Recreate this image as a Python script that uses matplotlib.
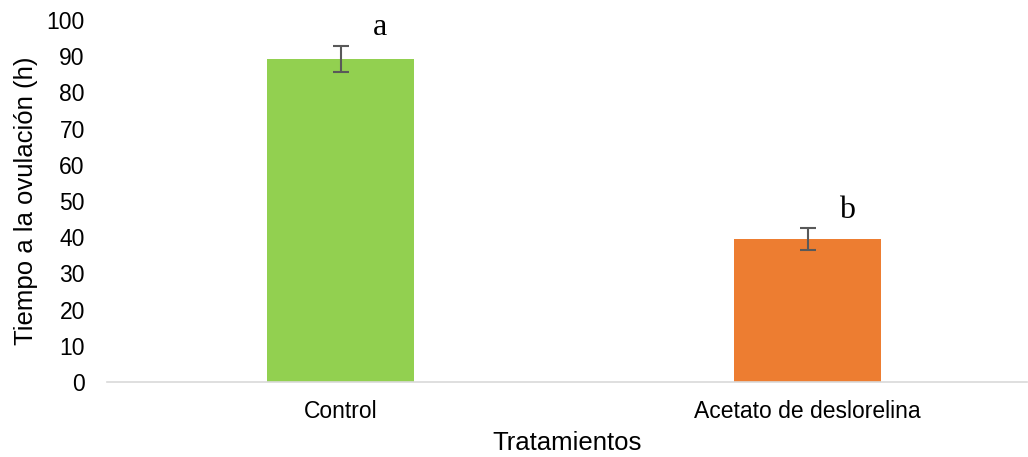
import matplotlib.pyplot as plt

categories = ["Control", "Acetato de deslorelina"]
means = [89.3, 39.5]
errors = [3.65, 3.0]
letters = ["a", "b"]
colors = ["#92d050", "#ed7d31"]

plt.rcParams['font.family'] = ['Liberation Sans', 'DejaVu Sans']

fig = plt.figure(figsize=(10.28, 4.57), dpi=100)
ax = fig.add_axes([107/1028, 1 - 382/457, (1027 - 107)/1028, (382 - 20)/457])

x = range(len(categories))
ax.bar(x, means, width=0.315, color=colors, zorder=2)
ax.errorbar(x, means, yerr=errors, fmt='none', ecolor='#595959',
            elinewidth=1.5, capsize=6, capthick=1.5, zorder=3)

for i, (m, e, l) in enumerate(zip(means, errors, letters)):
    ax.text(i + 0.085, m + e + 5, l, family='Liberation Serif', fontsize=23,
            ha='center', va='center')

ax.set_xlim(-0.5, 1.47)
ax.set_ylim(0, 100)
ax.set_yticks(range(0, 101, 10))
ax.set_xticks(list(x))
ax.set_xticklabels(categories)
ax.tick_params(axis='both', length=0, labelsize=16.5, colors='black')
ax.tick_params(axis='y', pad=16)
ax.tick_params(axis='x', pad=13)

for s in ['top', 'right', 'left']:
    ax.spines[s].set_visible(False)
ax.spines['bottom'].set_color('#d9d9d9')
ax.spines['bottom'].set_linewidth(1.2)

ax.set_ylabel("Tiempo a la ovulación (h)", fontsize=18.5, labelpad=6)
ax.set_xlabel("Tratamientos", fontsize=18.5, labelpad=6)

fig.savefig("out.png", dpi=100)
